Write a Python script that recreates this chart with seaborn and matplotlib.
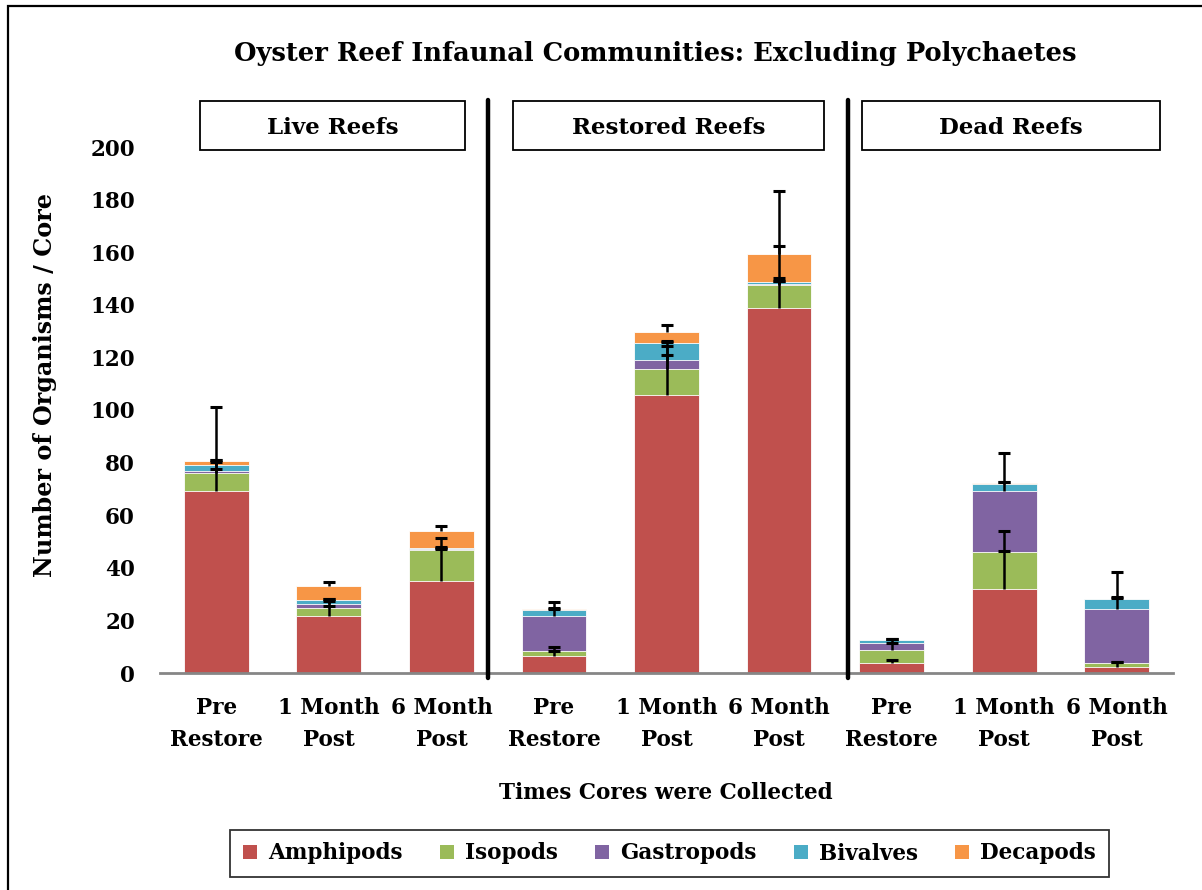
import numpy as np
import pandas as pd
import matplotlib
matplotlib.use("Agg")
import matplotlib.pyplot as plt
from matplotlib.patches import Rectangle, Patch
from matplotlib.lines import Line2D
import seaborn as sns

# data
groups = ["Live Reefs", "Restored Reefs", "Dead Reefs"]
times = ["Pre\nRestore", "1 Month\nPost", "6 Month\nPost"]
series = ["Amphipods", "Isopods", "Gastropods", "Bivalves", "Decapods"]
colors = ["#C0504D", "#9BBB59", "#8064A2", "#4BACC6", "#F79646"]

amphipods = [69.3, 21.8, 35.1, 6.3, 105.7, 138.9, 3.8, 31.9, 2.4]
isopods = [6.7, 3.0, 11.8, 2.2, 10.0, 8.7, 4.8, 14.1, 1.4]
gastropods = [0.9, 1.6, 0.1, 13.1, 3.2, 0.3, 2.7, 23.3, 20.7]
bivalves = [2.3, 1.2, 0.7, 2.2, 6.5, 0.7, 1.1, 2.7, 3.5]
decapods = [1.3, 5.4, 6.2, 0.4, 4.3, 10.8, 0.2, 0.3, 0.2]

# positive error bars (drawn from the top of each segment)
err_amphipods = [31.7, 3.8, 12.5, 2.1, 15.3, 10.0, 1.3, 14.5, 1.8]
err_isopods = [1.6, 2.5, 4.3, 1.2, 8.7, 2.7, 2.9, 8.0, 0.4]
err_gastropods = [3.3, 1.6, 0.3, 5.4, 7.5, 14.3, 1.7, 14.2, 14.0]
err_bivalves = [1.8, 0.5, 0.2, 0.8, 0.5, 0.3, 0.6, 0.7, 1.0]
err_decapods = [0.3, 1.5, 2.0, 0.3, 2.5, 24.0, 0.3, 0.2, 0.2]

values = [amphipods, isopods, gastropods, bivalves, decapods]
errors = [err_amphipods, err_isopods, err_gastropods, err_bivalves, err_decapods]

keys = [f"{g}|{t}" for g in groups for t in times]
df = pd.DataFrame({"key": keys})
for name, vals in zip(series, values):
    df[name] = vals
cum = df[series].cumsum(axis=1)

sns.set_style("white")
plt.rcParams["font.family"] = ["DejaVu Serif"]
plt.rcParams["font.weight"] = "bold"
plt.rcParams["text.color"] = "black"
plt.rcParams["xtick.color"] = "black"
plt.rcParams["ytick.color"] = "black"

W, H = 1202, 890
fig = plt.figure(figsize=(W / 100, H / 100), dpi=100)
ax = fig.add_axes([160 / W, 1 - 673 / H, 1013 / W, 526 / H])

# stacked bars: draw cumulative totals from the top series down
for name, c in reversed(list(zip(series, colors))):
    sns.barplot(x=df["key"], y=cum[name], order=keys, color=c, saturation=1,
                width=0.575, edgecolor="white", linewidth=0.6, ax=ax)

xs = np.arange(len(keys))
for name, err in zip(series, errors):
    line, caps, bars = ax.errorbar(xs, cum[name], yerr=[np.zeros(len(keys)), err],
                                   fmt="none", ecolor="black", elinewidth=1.8,
                                   capsize=4.5, capthick=2.2, zorder=5)
    caps[0].set_visible(False)  # plus direction only

ax.set_ylim(0, 200)
ax.set_xlim(-0.5, len(keys) - 0.5)
ax.set_yticks(range(0, 201, 20))
ax.set_xticks(xs)
ax.set_xticklabels(times * 3, fontsize=15.5, fontweight="bold", linespacing=1.6)
ax.tick_params(axis="y", length=0, pad=18, labelsize=15.5)
ax.tick_params(axis="x", length=0, pad=17)
ax.set_xlabel("")
ax.set_ylabel("")
for s in ["left", "right", "top"]:
    ax.spines[s].set_visible(False)
ax.spines["bottom"].set_color("#868686")
ax.spines["bottom"].set_linewidth(2)

# outer frame
fig.add_artist(Rectangle((8 / W, -0.1), 1.2, 1.1 - 6 / H, transform=fig.transFigure,
                         fill=False, edgecolor="black", linewidth=1.6))

fig.text(655 / W, 1 - 53 / H, "Oyster Reef Infaunal Communities: Excluding Polychaetes",
         ha="center", va="center", fontsize=18.5, fontweight="bold")
fig.text(45 / W, 1 - 385 / H, "Number of Organisms / Core", rotation=90,
         ha="center", va="center", fontsize=17.2, fontweight="bold")
fig.text(666 / W, 1 - 793 / H, "Times Cores were Collected",
         ha="center", va="center", fontsize=15.5, fontweight="bold")

# group separators
for xp in [488, 848]:
    fig.add_artist(Line2D([xp / W, xp / W], [1 - 678 / H, 1 - 100 / H],
                          transform=fig.transFigure, color="black", linewidth=3.2))

# group label boxes
boxes = [(200, 465), (513, 824), (862, 1160)]
for g, (x0, x1) in zip(groups, boxes):
    fig.add_artist(Rectangle((x0 / W, 1 - 150 / H), (x1 - x0) / W, 49 / H,
                             transform=fig.transFigure, fill=True, facecolor="white",
                             edgecolor="black", linewidth=1.3))
    fig.text((x0 + x1) / 2 / W, 1 - 128 / H, g, ha="center", va="center",
             fontsize=16.5, fontweight="bold")

handles = [Patch(facecolor=c, edgecolor="none", label=n) for n, c in zip(series, colors)]
leg = fig.legend(handles=handles, loc="center", bbox_to_anchor=(669.5 / W, 1 - 853.5 / H),
                 ncol=5, frameon=True, fancybox=False, fontsize=15.5,
                 handlelength=0.65, handleheight=0.65, handletextpad=0.5,
                 columnspacing=1.75, borderpad=0.6)
leg.get_frame().set_edgecolor("black")
leg.get_frame().set_linewidth(1.3)

fig.savefig("out.png", dpi=100)
